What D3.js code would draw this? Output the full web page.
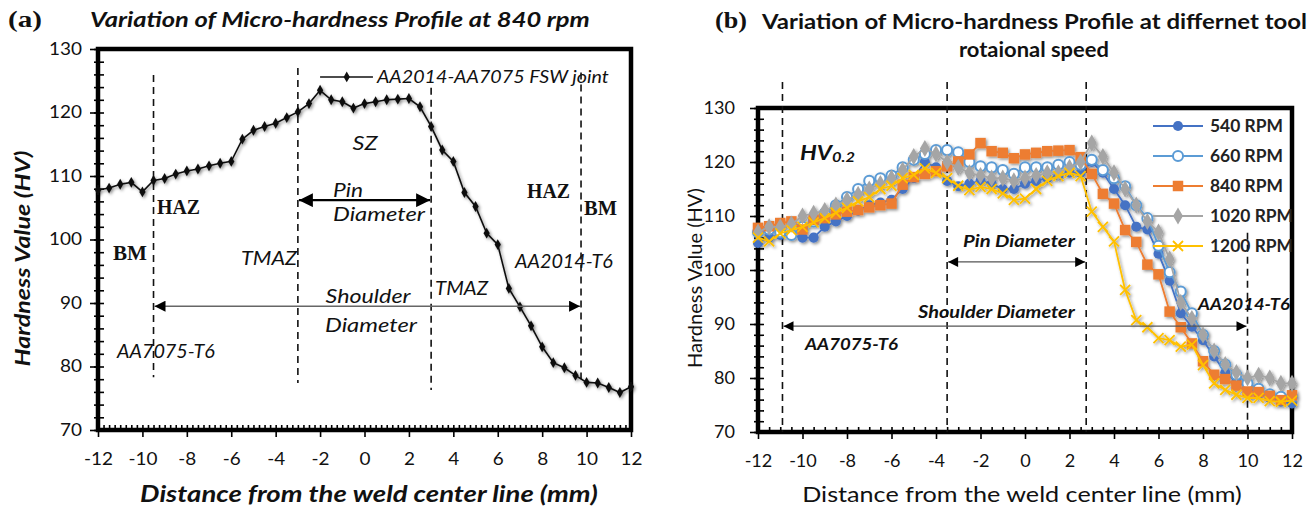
<!DOCTYPE html>
<html>
<head>
<meta charset="utf-8">
<script src="https://cdn.jsdelivr.net/npm/d3@7"></script>
<style>
  body { margin: 0; background: #fff; }
  text { font-family: Lato, "Open Sans", sans-serif; }
</style>
</head>
<body>
<svg id="chart" width="1315" height="509"></svg>
<script>
// measurement positions across the joint (mm)
var distance = [-12, -11.5, -11, -10.5, -10, -9.5, -9, -8.5, -8, -7.5, -7, -6.5, -6, -5.5, -5, -4.5,
  -4, -3.5, -3, -2.5, -2, -1.5, -1, -0.5, 0, 0.5, 1, 1.5, 2, 2.5, 3, 3.5, 4, 4.5, 5, 5.5, 6, 6.5,
  7, 7.5, 8, 8.5, 9, 9.5, 10, 10.5, 11, 11.5, 12];

// hardness values (HV) per rotational speed
var hv840 = [107.8, 108.1, 108.7, 109.0, 107.5, 109.3, 109.6, 110.3, 110.8, 111.1, 111.6, 112.0, 112.3,
  115.8, 117.2, 117.8, 118.3, 119.2, 120.1, 121.4, 123.5, 122.0, 121.7, 120.7, 121.4, 121.7, 122.0,
  122.1, 122.2, 120.9, 117.8, 114.1, 112.3, 107.4, 105.2, 101.0, 99.2, 92.3, 89.4, 86.4, 83.1, 80.6,
  79.8, 78.6, 77.5, 77.4, 76.7, 75.9, 76.8];
var hv540 = [105, 106, 106.5, 106.5, 106, 106, 108, 109, 110, 111, 112, 112.5, 113, 115, 117, 120,
  119, 116.5, 115.5, 116, 116.5, 116, 115, 115, 116, 116.5, 117, 117.5, 118, 118, 120, 118, 115,
  112, 108, 107.5, 103, 98, 92, 89.5, 87, 84, 81, 79.3, 78.3, 77, 76.3, 75.6, 75.3];
var hv660 = [107, 107.5, 107, 106.5, 108, 109, 110.5, 112, 113.5, 115, 116.5, 117, 117.5, 119, 120.4,
  121.5, 122.2, 122.2, 121.8, 120, 119.2, 119, 118.5, 117.8, 119, 119, 119, 119.5, 120, 119.5, 120.4,
  118.5, 117, 115.5, 112, 109.6, 104.5, 99.6, 96, 92, 88, 85, 82.5, 80.6, 79, 78, 77, 76.5, 76.5];
var hv1020 = [107, 108, 108, 108.5, 110, 110.5, 111, 112, 113, 114, 115, 116, 117, 118.5, 121, 122.5,
  121.5, 120, 119, 118, 117.5, 117, 117, 116.5, 117, 117.5, 118, 118, 119, 120, 123.5, 121, 118,
  115, 112, 109, 107, 102, 94, 91, 88, 85, 82.5, 81, 80, 80.5, 80, 79, 79];
var hv1200 = [106, 105.3, 106.8, 107.4, 108, 108.8, 109.6, 110.6, 111.5, 112.7, 113.5, 115, 115.6,
  117, 117.6, 118.8, 118, 117, 115.6, 114.8, 115.4, 115, 114.2, 113, 113.2, 115, 116.5, 117.4, 118,
  117.4, 110.8, 108, 105.3, 96.3, 90.7, 89.4, 87.4, 87, 85.8, 86.2, 82.4, 79, 77.8, 76.9, 76.3,
  76.3, 75.7, 75.6, 75.8];

var speedLabels = ["540 RPM", "660 RPM", "840 RPM", "1020 RPM", "1200 RPM"];
var xTickLabels = [-12, -10, -8, -6, -4, -2, 0, 2, 4, 6, 8, 10, 12];
var yTickLabels = [70, 80, 90, 100, 110, 120, 130];

// zone boundaries (mm) and their vertical extent (HV)
var zoneA = [-9.5, -3, 3, 9.75];
var zoneATop = [125.9, 127, 123.9, 126.3];
var zoneABottom = [78.3, 77.4, 76.3, 78];
var zoneB = [-10.9, -3.5, 2.75, 10];
var zoneBTop = [134.8, 134.8, 134.8, 106.9];

var svg = d3.select("#chart");
var defs = svg.append("defs");

defs.append("filter").attr("id", "soft")
    .attr("x", "-5%").attr("y", "-5%").attr("width", "110%").attr("height", "110%")
  .append("feDropShadow")
    .attr("dx", 1.5).attr("dy", 1.5).attr("stdDeviation", 1.8)
    .attr("flood-color", "#000").attr("flood-opacity", 0.45);

function arrowMarker(id, w, h) {
  defs.append("marker").attr("id", id)
      .attr("viewBox", "0 0 10 10").attr("refX", 10).attr("refY", 5)
      .attr("markerUnits", "userSpaceOnUse")
      .attr("markerWidth", w).attr("markerHeight", h)
      .attr("orient", "auto-start-reverse")
    .append("path").attr("d", "M0,0L10,5L0,10Z").attr("fill", "#000");
}
arrowMarker("headBig", 16, 14);
arrowMarker("headMid", 15, 11);
arrowMarker("headSmall", 13, 10);

var xA = d3.scaleLinear().domain([-12, 12]).range([98, 631]);
var yA = d3.scaleLinear().domain([70, 130]).range([430, 49]);
var xB = d3.scaleLinear().domain([-12, 12]).range([758, 1292]);
var yB = d3.scaleLinear().domain([70, 130]).range([432, 108]);

// stretch a text horizontally so that it (or a probe part of it) spans "target" px
function widthOf(t, probe) {
  var node = t.node();
  if (!probe) return node.getComputedTextLength();
  var keep = t.text();
  t.text(probe);
  var w = node.getComputedTextLength();
  t.text(keep);
  return w;
}
function fit(t, target, probe, rot) {
  var sx = Math.max(0.7, Math.min(1.7, target / widthOf(t, probe)));
  var x = +t.attr("x"), y = +t.attr("y");
  t.attr("x", 0).attr("y", 0)
    .attr("transform", "translate(" + x + "," + y + ")" + (rot ? " rotate(" + rot + ")" : "") + " scale(" + sx + ",1)");
  return sx;
}

function label(x, y, txt, opt) {
  var t = svg.append("text")
    .attr("x", x).attr("y", y)
    .attr("text-anchor", opt.anchor || "start")
    .attr("font-size", opt.size || 18)
    .attr("font-style", opt.italic ? "italic" : "normal")
    .attr("font-weight", opt.weight || 400)
    .attr("fill", opt.fill || "#111")
    .text(txt);
  if (opt.serif) t.style("font-family", "'Liberation Serif', 'DejaVu Serif', serif");
  if (opt.w) fit(t, opt.w, opt.probe, opt.rot);
  return t;
}

function drawAxes(x, y, xMinorStep, labelGap, probeW) {
  var x0 = x.range()[0], x1 = x.range()[1], y0 = y.range()[0], y1 = y.range()[1];
  var g = svg.append("g");

  var xMinor = d3.range(-12, 12.001, xMinorStep);
  var yMinor = d3.range(70, 130.001, 2);

  g.append("g").attr("transform", "translate(0," + y0 + ")")
    .call(d3.axisBottom(x).tickValues(xMinor).tickSizeInner(-5).tickSizeOuter(0).tickFormat(""))
    .call(function (s) { s.select(".domain").remove(); });
  g.append("g").attr("transform", "translate(" + x0 + ",0)")
    .call(d3.axisLeft(y).tickValues(yMinor).tickSizeInner(-6).tickSizeOuter(0).tickFormat(""))
    .call(function (s) { s.select(".domain").remove(); });
  g.append("g").attr("transform", "translate(" + x0 + ",0)")
    .call(d3.axisLeft(y).tickValues(yMinor).tickSizeInner(4).tickSizeOuter(0).tickFormat(""))
    .call(function (s) { s.select(".domain").remove(); });

  var ax = g.append("g").attr("transform", "translate(0," + y0 + ")")
    .call(d3.axisBottom(x).tickValues(xTickLabels).tickSize(7).tickPadding(16).tickFormat(String));
  var ay = g.append("g").attr("transform", "translate(" + x0 + ",0)")
    .call(d3.axisLeft(y).tickValues(yTickLabels).tickSize(8).tickPadding(labelGap).tickFormat(String));
  ax.select(".domain").remove();
  ay.select(".domain").remove();

  var labels = g.selectAll(".tick text")
    .attr("font-family", "Lato, sans-serif").attr("font-size", 17).attr("fill", "#111");
  // one horizontal stretch for all tick labels, from the width of the "70" label
  var sx = probeW / ay.select(".tick text").node().getComputedTextLength();
  labels.each(function () {
    var t = d3.select(this);
    t.attr("x", (+t.attr("x") || 0) / sx).attr("transform", "scale(" + sx + ",1)");
  });

  g.selectAll(".tick line").attr("stroke", "#000").attr("stroke-width", 1.6);

  g.append("rect")
    .attr("x", x0).attr("y", y1)
    .attr("width", x1 - x0).attr("height", y0 - y1)
    .attr("fill", "none").attr("stroke", "#000").attr("stroke-width", 4.5);
}

// ---------- panel (a) ----------
drawAxes(xA, yA, 0.25, 8, 22);

svg.append("g").selectAll("line").data(zoneA).enter().append("line")
  .attr("x1", function (d) { return xA(d); }).attr("x2", function (d) { return xA(d); })
  .attr("y1", function (d, i) { return yA(zoneATop[i]); })
  .attr("y2", function (d, i) { return yA(zoneABottom[i]); })
  .attr("stroke", "#111").attr("stroke-width", 1.6).attr("stroke-dasharray", "7,5");

var lineA = d3.line().x(function (d) { return xA(d[0]); }).y(function (d) { return yA(d[1]); });
var dataA = distance.map(function (d, i) { return [d, hv840[i]]; });
var gA = svg.append("g").attr("filter", "url(#soft)");
gA.append("path").datum(dataA).attr("d", lineA)
  .attr("fill", "none").attr("stroke", "#111").attr("stroke-width", 1.6);
gA.selectAll("path.pt").data(dataA).enter().append("path").attr("class", "pt")
  .attr("transform", function (d) { return "translate(" + xA(d[0]) + "," + yA(d[1]) + ")"; })
  .attr("d", d3.symbol().type(d3.symbolDiamond).size(34))
  .attr("fill", "#111");

// legend of (a)
svg.append("line")
  .attr("x1", xA(-2.0)).attr("x2", xA(0.38)).attr("y1", yA(125.6)).attr("y2", yA(125.6))
  .attr("stroke", "#111").attr("stroke-width", 1.6);
svg.append("path")
  .attr("transform", "translate(" + xA(-0.8) + "," + yA(125.6) + ")")
  .attr("d", d3.symbol().type(d3.symbolDiamond).size(34)).attr("fill", "#111");
label(xA(0.56), yA(124.6), "AA2014-AA7075 FSW joint", { italic: true, size: 18, w: 232 });

// pin / shoulder arrows of (a)
svg.append("line")
  .attr("x1", xA(-3) + 1).attr("x2", xA(3) - 1).attr("y1", yA(106.2)).attr("y2", yA(106.2))
  .attr("stroke", "#000").attr("stroke-width", 2.4)
  .attr("marker-start", "url(#headBig)").attr("marker-end", "url(#headBig)");
svg.append("line")
  .attr("x1", xA(-9.5) + 1).attr("x2", xA(9.75) - 1).attr("y1", yA(89.5)).attr("y2", yA(89.5))
  .attr("stroke", "#666").attr("stroke-width", 1.6)
  .attr("marker-start", "url(#headMid)").attr("marker-end", "url(#headMid)");

var ann = { italic: true, size: 19 };
label(365, yA(114.1), "SZ", Object.assign({ anchor: "middle", w: 25 }, ann));
label(348, yA(106.7), "Pin", Object.assign({ anchor: "middle", w: 30 }, ann));
label(379, yA(102.9), "Diameter", Object.assign({ anchor: "middle", w: 92 }, ann));
label(368, yA(90.0), "Shoulder", Object.assign({ anchor: "middle", w: 85 }, ann));
label(371, yA(85.4), "Diameter", Object.assign({ anchor: "middle", w: 92 }, ann));
label(297, yA(96.0), "TMAZ", Object.assign({ anchor: "end", w: 56 }, ann));
label(435, yA(91.3), "TMAZ", Object.assign({ w: 53 }, ann));
label(515, yA(95.5), "AA2014-T6", Object.assign({ w: 98 }, ann));
label(117, yA(81.3), "AA7075-T6", Object.assign({ w: 98 }, ann));
label(157, yA(104.0), "HAZ", { serif: true, weight: 700, size: 20, w: 43 });
label(527, yA(106.5), "HAZ", { serif: true, weight: 700, size: 20, w: 43 });
label(113, yA(96.8), "BM", { serif: true, weight: 700, size: 20, w: 34 });
label(584, yA(103.9), "BM", { serif: true, weight: 700, size: 20, w: 33 });

label(8, 27, "(a)", { serif: true, weight: 700, size: 24, w: 34 });
label(90, 27, "Variation of Micro-hardness Profile at 840 rpm",
  { italic: true, weight: 700, size: 21, w: 500 });
label(369, 502, "Distance from the weld center line (mm)",
  { italic: true, weight: 700, size: 23, anchor: "middle", w: 458 });
label(30, yA(97), "Hardness Value  (HV)",
  { italic: true, weight: 700, size: 21, anchor: "middle", w: 216, rot: -90 });

// ---------- panel (b) ----------
drawAxes(xB, yB, 0.5, 15, 21);

svg.append("g").selectAll("line").data(zoneB).enter().append("line")
  .attr("x1", function (d) { return xB(d); }).attr("x2", function (d) { return xB(d); })
  .attr("y1", function (d, i) { return yB(zoneBTop[i]); })
  .attr("y2", yB(70))
  .attr("stroke", "#111").attr("stroke-width", 1.6).attr("stroke-dasharray", "7,5");

var series = [
  { name: speedLabels[0], values: hv540, color: "#4472C4", shape: "circle", fill: "#4472C4" },
  { name: speedLabels[1], values: hv660, color: "#5B9BD5", shape: "circle", fill: "#fff" },
  { name: speedLabels[2], values: hv840, color: "#ED7D31", shape: "square", fill: "#ED7D31" },
  { name: speedLabels[3], values: hv1020, color: "#A5A5A5", shape: "diamond", fill: "#A5A5A5" },
  { name: speedLabels[4], values: hv1200, color: "#FFC000", shape: "cross", fill: "none" }
];

var shapePath = {
  circle: d3.symbol().type(d3.symbolCircle).size(80)(),
  square: d3.symbol().type(d3.symbolSquare).size(110)(),
  diamond: d3.symbol().type(d3.symbolDiamond).size(85)(),
  cross: "M-5,-5L5,5M-5,5L5,-5"
};

function drawMarker(sel, s) {
  sel.attr("d", shapePath[s.shape])
    .attr("fill", s.fill)
    .attr("stroke", s.color)
    .attr("stroke-width", s.shape === "cross" ? 1.8 : (s.shape === "circle" && s.fill === "#fff" ? 2 : 0));
}

var lineB = d3.line().x(function (d) { return xB(d[0]); }).y(function (d) { return yB(d[1]); });
var gB = svg.append("g").attr("filter", "url(#soft)");
series.forEach(function (s) {
  var pts = distance.map(function (d, i) { return [d, s.values[i]]; });
  var g = gB.append("g");
  g.append("path").datum(pts).attr("d", lineB)
    .attr("fill", "none").attr("stroke", s.color).attr("stroke-width", 1.8);
  g.selectAll("path.pt").data(pts).enter().append("path").attr("class", "pt")
    .attr("transform", function (d) { return "translate(" + xB(d[0]) + "," + yB(d[1]) + ")"; })
    .call(drawMarker, s);
});

// legend of (b)
var leg = svg.append("g").attr("transform", "translate(1153,126)");
var legSx = null;
series.forEach(function (s, i) {
  var row = leg.append("g").attr("transform", "translate(0," + (i * 30) + ")");
  row.append("line").attr("x1", 0).attr("x2", 50).attr("stroke", s.color).attr("stroke-width", 1.8);
  row.append("path").attr("transform", "translate(25,0)").call(drawMarker, s);
  var t = row.append("text").attr("x", 57).attr("y", 6)
    .attr("font-size", 17).attr("font-weight", 700).attr("fill", "#222").text(s.name);
  if (legSx === null) legSx = 73 / t.node().getComputedTextLength();
  t.attr("x", 0).attr("y", 0).attr("transform", "translate(57,6) scale(" + legSx + ",1)");
});

// arrows of (b)
svg.append("line")
  .attr("x1", xB(-3.5) + 1).attr("x2", xB(2.75) - 1).attr("y1", yB(101.5)).attr("y2", yB(101.5))
  .attr("stroke", "#555").attr("stroke-width", 1.4)
  .attr("marker-start", "url(#headSmall)").attr("marker-end", "url(#headSmall)");
svg.append("line")
  .attr("x1", xB(-10.9) + 1).attr("x2", xB(10) - 1).attr("y1", yB(89.6)).attr("y2", yB(89.6))
  .attr("stroke", "#555").attr("stroke-width", 1.4)
  .attr("marker-start", "url(#headSmall)").attr("marker-end", "url(#headSmall)");

var hv = label(800, yB(120.4), "HV", { italic: true, weight: 700, size: 20 });
hv.append("tspan").attr("font-size", 14).attr("dy", 2).text("0.2");
fit(hv, 55);
var annB = { italic: true, weight: 700, size: 17 };
label(963, yB(104.3), "Pin Diameter", Object.assign({ w: 112 }, annB));
label(918, yB(91.1), "Shoulder Diameter", Object.assign({ w: 157 }, annB));
label(805, yB(85.2), "AA7075-T6", Object.assign({ w: 93 }, annB));
label(1198, yB(92.6), "AA2014-T6", Object.assign({ w: 92 }, annB));

label(715, 28, "(b)", { serif: true, weight: 700, size: 24, w: 32 });
var tb = label(762, 29, "Variation of Micro-hardness Profile at differnet tool",
  { weight: 700, size: 20, w: 326, probe: "Variation of Micro-hardness Pr" });
var tbBox = tb.node().getBoundingClientRect();
label(tbBox.left + tbBox.width / 2, 57, "rotaional speed", { weight: 700, size: 20, anchor: "middle", w: 150 });
label(1022, 502, "Distance from the weld center line (mm)", { size: 22, anchor: "middle", w: 440 });
label(702, yB(98.5), "Hardness Value  (HV)", { size: 20, anchor: "middle", w: 180, rot: -90 });
</script>
</body>
</html>
